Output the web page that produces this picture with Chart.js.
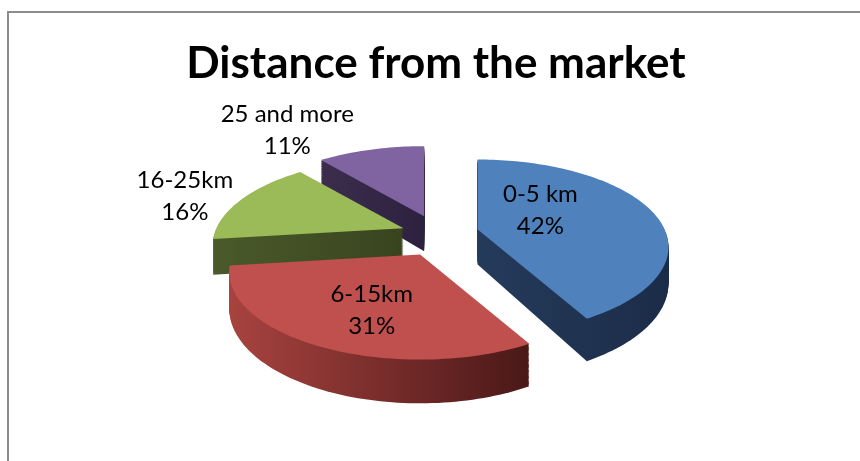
<!DOCTYPE html>
<html>
<head>
<meta charset="utf-8">
<title>Distance from the market</title>
<script src="https://cdn.jsdelivr.net/npm/chart.js@4.4.1/dist/chart.umd.min.js"></script>
<style>
  html, body { margin: 0; padding: 0; background: #fff; overflow: hidden; }
  #wrap { position: relative; width: 860px; height: 461px; }
  #frame { position: absolute; left: 7px; top: 11px; width: 900px; height: 500px; border: 2px solid #8c8c8c; box-sizing: border-box; }
  canvas { position: absolute; left: 0; top: 0; }
</style>
</head>
<body>
<div id="wrap">
  <div id="frame"></div>
  <canvas id="distance" width="860" height="461"></canvas>
</div>
<script>
const categories = ['0-5 km', '6-15km', '16-25km', '25 and more'];
const shares = [42, 31, 16, 11];
const topColors = ['#4F81BD', '#C0504D', '#9BBB59', '#8064A2'];
// wall shading, left -> right
const sideColors = [['#253B5C', '#1B2C47'], ['#A8433F', '#4A1818'], ['#4A5A2A', '#39441F'], ['#3C2D4D', '#2D2140']];
// how far each slice is pulled out of the pie
const explode = [43, 35, 35, 35];
// label anchor per slice: fraction of radius, angle shift from slice middle
const labelSpots = [{r: 0.43, a: -0.36}, {r: 0.63, a: -0.10}, {r: 1.33, a: -0.063}, {r: 1.58, a: -0.276}];

const TILT = 0.449;        // vertical squash of the pie top
const FOCAL = 935;         // perspective distance
const DEPTH = 35;          // pie thickness
const EXPLODE_TILT = 0.6;

const pie3d = {
  id: 'pie3d',
  beforeDatasetsDraw(chart) {
    const ctx = chart.ctx;
    const arcs = chart.getDatasetMeta(0).data;
    const cx = arcs[0].x, cy = arcs[0].y;

    const project = (r, ang, h) => {
      const u = r * Math.cos(ang), v = r * Math.sin(ang);
      const p = 1 / (1 - v / FOCAL);
      return [cx + u * p, cy + (v * TILT + h) * p];
    };

    const slices = arcs.map((arc, i) => {
      const mid = (arc.startAngle + arc.endAngle) / 2;
      return {
        arc, i, mid,
        dx: explode[i] * Math.cos(mid),
        dy: explode[i] * Math.sin(mid) * EXPLODE_TILT
      };
    });

    const outline = (s, h) => {
      const {startAngle, endAngle, outerRadius} = s.arc;
      const pts = [project(0, 0, h)];
      const steps = Math.max(8, Math.ceil((endAngle - startAngle) * 40));
      for (let k = 0; k <= steps; k++) {
        pts.push(project(outerRadius, startAngle + (endAngle - startAngle) * k / steps, h));
      }
      return pts.map(([x, y]) => [x + s.dx, y + s.dy]);
    };

    const fillPath = (pts, style) => {
      ctx.beginPath();
      ctx.moveTo(pts[0][0], pts[0][1]);
      for (let k = 1; k < pts.length; k++) ctx.lineTo(pts[k][0], pts[k][1]);
      ctx.closePath();
      ctx.fillStyle = style;
      ctx.fill();
    };

    ctx.save();
    // back slices first
    slices.slice().sort((a, b) => Math.sin(a.mid) - Math.sin(b.mid)).forEach(s => {
      const xs = outline(s, DEPTH).concat(outline(s, 0)).map(p => p[0]);
      const grad = ctx.createLinearGradient(Math.min(...xs), 0, Math.max(...xs), 0);
      grad.addColorStop(0, sideColors[s.i][0]);
      grad.addColorStop(1, sideColors[s.i][1]);
      for (let h = DEPTH; h > 0; h--) fillPath(outline(s, h), grad);
      fillPath(outline(s, 0), s.arc.options.backgroundColor);
    });

    // category + percentage labels
    const total = shares.reduce((a, b) => a + b, 0);
    ctx.font = '24px Lato';
    ctx.fillStyle = '#000';
    ctx.textAlign = 'center';
    ctx.textBaseline = 'alphabetic';
    slices.forEach(s => {
      const spot = labelSpots[s.i];
      const [x, y] = project(s.arc.outerRadius * spot.r, s.mid + spot.a, 0);
      const lx = x + s.dx, ly = y + s.dy;
      ctx.fillText(chart.data.labels[s.i], lx, ly - 8);
      ctx.fillText(Math.round(shares[s.i] / total * 100) + '%', lx, ly + 24);
    });
    ctx.restore();
    return false;
  }
};

new Chart(document.getElementById('distance'), {
  type: 'pie',
  data: {
    labels: categories,
    datasets: [{
      data: shares,
      backgroundColor: topColors,
      borderWidth: 0,
      radius: 187
    }]
  },
  options: {
    responsive: false,
    animation: false,
    layout: { padding: { left: 12, right: 0, top: 0, bottom: 79 } },
    plugins: {
      legend: { display: false },
      tooltip: { enabled: false },
      title: {
        display: true,
        text: 'Distance from the market',
        color: '#000',
        font: { family: 'Lato', size: 44, weight: 'bold' },
        padding: { top: 37, bottom: 0 }
      }
    }
  },
  plugins: [pie3d]
});
</script>
</body>
</html>
